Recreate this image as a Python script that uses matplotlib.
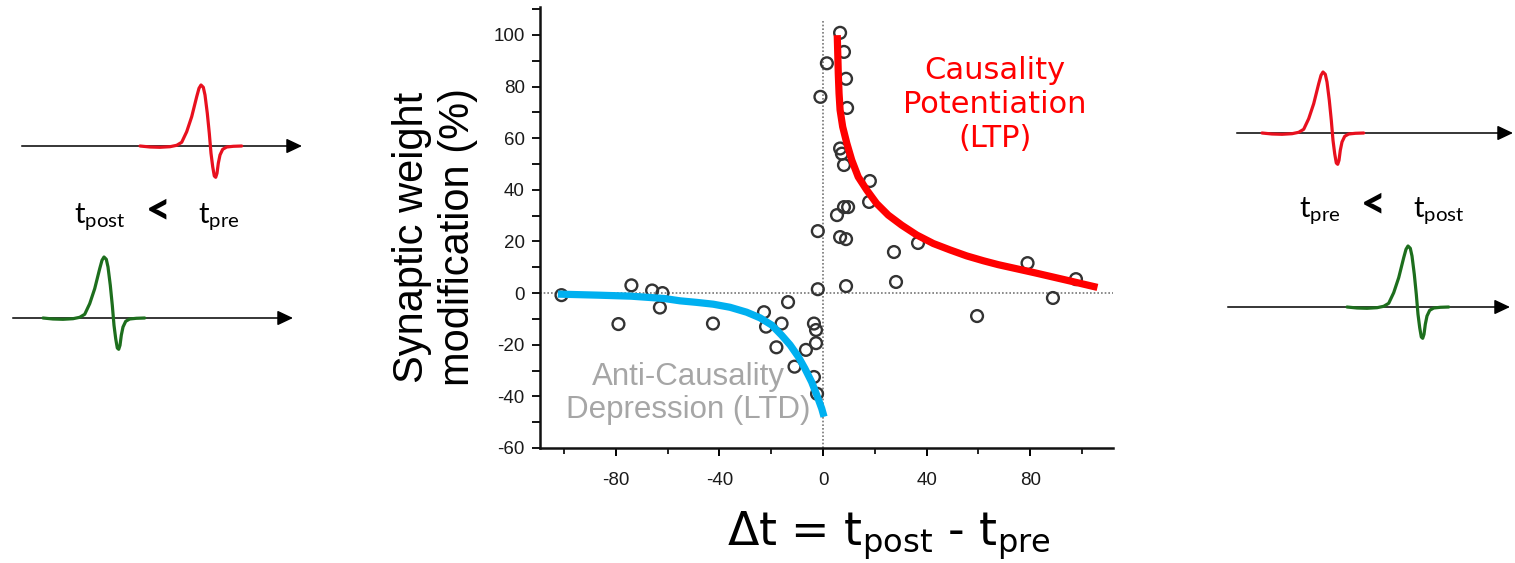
import matplotlib
matplotlib.use("Agg")
import matplotlib.pyplot as plt

W, H = 1515, 563

# spike timing difference (ms) and synaptic weight change (%)
dt_ms = [-101, -79, -74, -66, -62, -63, -42.5, -22.8, -13.5, -22, -16, -18,
         -11, -6.6, -3.5, -2.7, -2.7, -3.5, -2.3, -2, -2, -1, 1.5,
         6.6, 8.1, 8.9, 9.3, 6.6, 7.3, 8.1, 18.1, 17.8, 8.1, 9.7, 5.4,
         6.6, 8.9, 27.4, 36.7, 28.2, 8.9, 79, 97.7, 88.8, 59.5]
dw_pct = [-0.8, -12, 3, 1, 0, -5.6, -11.8, -7.4, -3.5, -13, -11.8, -21,
          -28.5, -22, -11.8, -14.3, -19.4, -32.5, -39, 1.5, 24, 76, 89,
          100.8, 93.4, 83, 71.7, 56, 54, 49.6, 43.4, 35.3, 33.3, 33.3, 30.2,
          21.7, 20.9, 15.9, 19.4, 4.3, 2.7, 11.6, 5.4, -1.9, -8.9]

# fitted LTP branch (dt > 0)
ltp_dt = [5.5, 5.7, 5.9, 6.2, 6.6, 7.6, 9.2, 11.1, 13.6, 16.9, 20.7, 25.2,
          30.4, 36.2, 42.6, 49.1, 55.5, 62, 67.7, 81.6, 94.5, 106]
ltp_dw = [99.9, 92.8, 85.1, 77.3, 70.9, 64.4, 58.0, 51.5, 45.0, 39.9, 34.7,
          30.2, 26.3, 22.5, 19.2, 16.7, 14.4, 12.5, 11.0, 7.9, 4.9, 2.2]

# fitted LTD branch (dt < 0)
ltd_dt = [-102.4, -87, -74.1, -61.3, -55.2, -48.8, -42.4, -35.9, -29.5,
          -24.3, -19.8, -16, -12.7, -9.5, -7, -4.4, -2.4, -0.5, 0.4]
ltd_dw = [-0.4, -0.8, -1.2, -2.1, -3.0, -3.6, -4.3, -5.5, -7.4, -9.6,
          -12.4, -16.3, -20.1, -24.7, -29.2, -34.4, -39.5, -44.7, -47.9]

# action potential shape (px offsets: right, up)
spike_dx = [0, 10, 20, 30, 36.7, 41.7, 46.7, 51.7, 56.7, 59, 61, 63.3, 65,
            67.3, 69.3, 71, 72.7, 74.3, 75.7, 77, 78.3, 80, 82.7, 86.7,
            93.3, 101.7]
spike_dy = [0, -1, -1.3, -0.7, 0.7, 3.7, 14.3, 29.3, 49.3, 57.7, 61, 58.7,
            51, 32.7, 12.7, -7.3, -20.7, -30, -31.3, -27.3, -17.3, -9, -3.3,
            -1, -0.3, 0]

RED_SPIKE = "#e8101e"
GREEN_SPIKE = "#1d6e1d"

plt.rcParams["mathtext.fontset"] = "custom"
plt.rcParams["mathtext.rm"] = "Lato"
plt.rcParams["axes.unicode_minus"] = False

fig = plt.figure(figsize=(W / 100, H / 100), dpi=100)
fig.patch.set_facecolor("white")

# pixel-space overlay for the spike sketches and labels
ov = fig.add_axes([0, 0, 1, 1])
ov.set_xlim(0, W)
ov.set_ylim(H, 0)
ov.axis("off")


def time_axis(x0, x1, y):
    ov.plot([x0, x1 - 10], [y, y], color="black", lw=1.1)
    ov.annotate("", xy=(x1, y), xytext=(x1 - 12, y),
                arrowprops=dict(arrowstyle="-|>,head_length=0.95,head_width=0.45",
                                color="black", lw=1.1, mutation_scale=10,
                                shrinkA=0, shrinkB=0))


def spike(x0, y0, color):
    xs = [x0 + d for d in spike_dx]
    ys = [y0 - d for d in spike_dy]
    ov.plot(xs, ys, color=color, lw=2.3, solid_joinstyle="round",
            solid_capstyle="round")


time_axis(22, 302, 146)
spike(140, 146, RED_SPIKE)
time_axis(13, 293, 318)
spike(43, 318, GREEN_SPIKE)

time_axis(1237, 1513, 133)
spike(1262, 133, RED_SPIKE)
time_axis(1228, 1510, 307)
spike(1347, 307, GREEN_SPIKE)

tfont = dict(fontsize=21, color="black", va="baseline", ha="center")
lt = dict(fontsize=31, fontweight="black", family="Lato", ha="center",
          va="baseline")
ov.text(100, 222, r"$\mathrm{t_{post}}$", **tfont)
ov.text(158, 223, "<", **lt)
ov.text(219, 222, r"$\mathrm{t_{pre}}$", **tfont)

ov.text(1320, 216, r"$\mathrm{t_{pre}}$", **tfont)
ov.text(1373, 217, "<", **lt)
ov.text(1439, 216, r"$\mathrm{t_{post}}$", **tfont)

ov.text(435, 237, "Synaptic weight\nmodification (%)", rotation=90,
        fontsize=30, family="Liberation Sans", ha="center", va="center",
        linespacing=1.2)

ov.text(889, 546, r"$\Delta$t = t$_{\mathrm{post}}$ - t$_{\mathrm{pre}}$",
        fontsize=33, family="DejaVu Sans", ha="center", va="baseline",
        math_fontfamily="dejavusans")

# main STDP scatter
ax = fig.add_axes([540 / W, 1 - 448 / H, (1113 - 540) / W, (448 - 7) / H])
ax.patch.set_alpha(0)
ax.set_xlim(-109.3, 112)
ax.set_ylim(-60, 110.8)
for side in ("top", "right"):
    ax.spines[side].set_visible(False)
for side in ("left", "bottom"):
    ax.spines[side].set_linewidth(1.8)
    ax.spines[side].set_color("#111111")

ax.set_xticks([-80, -40, 0, 40, 80])
ax.set_xticks([-100, -60, -20, 20, 60, 100], minor=True)
ax.set_yticks(range(-60, 101, 20))
ax.set_yticks(range(-50, 111, 20), minor=True)
ax.tick_params(axis="x", which="major", length=6, width=1.4, pad=11,
               labelsize=13.5)
ax.tick_params(axis="x", which="minor", length=4, width=1.2)
ax.tick_params(axis="y", which="both", length=6, width=1.3, pad=5,
               labelsize=13.5)
for lab in ax.get_xticklabels() + ax.get_yticklabels():
    lab.set_family("Liberation Sans")
    lab.set_color("#1a1a1a")

ax.axhline(0, color="#777777", lw=1.2, ls=(0, (1, 1.2)), zorder=1)
ax.axvline(0, color="#777777", lw=1.2, ls=(0, (1, 1.2)), zorder=1,
           ymax=0.97)

ax.scatter(dt_ms, dw_pct, s=72, facecolors="none", edgecolors="#333333",
           linewidths=1.7, zorder=3)

ax.plot(ltp_dt, ltp_dw, color="#ff0000", lw=5.2, solid_capstyle="butt",
        solid_joinstyle="round", zorder=4)
ax.plot(ltd_dt, ltd_dw, color="#00b0f0", lw=5.2, solid_capstyle="butt",
        solid_joinstyle="round", zorder=4)

ax.text(66.4, 73, "Causality\nPotentiation\n(LTP)", color="#ff0000",
        fontsize=22, family="DejaVu Sans", ha="center", va="center",
        linespacing=1.2, zorder=5)
ax.text(-52, -38.8, "Anti-Causality\nDepression (LTD)", color="#a6a6a6",
        fontsize=22.5, family="Liberation Sans", ha="center", va="center",
        linespacing=1.15, zorder=5)

fig.savefig("out.png", dpi=100)
